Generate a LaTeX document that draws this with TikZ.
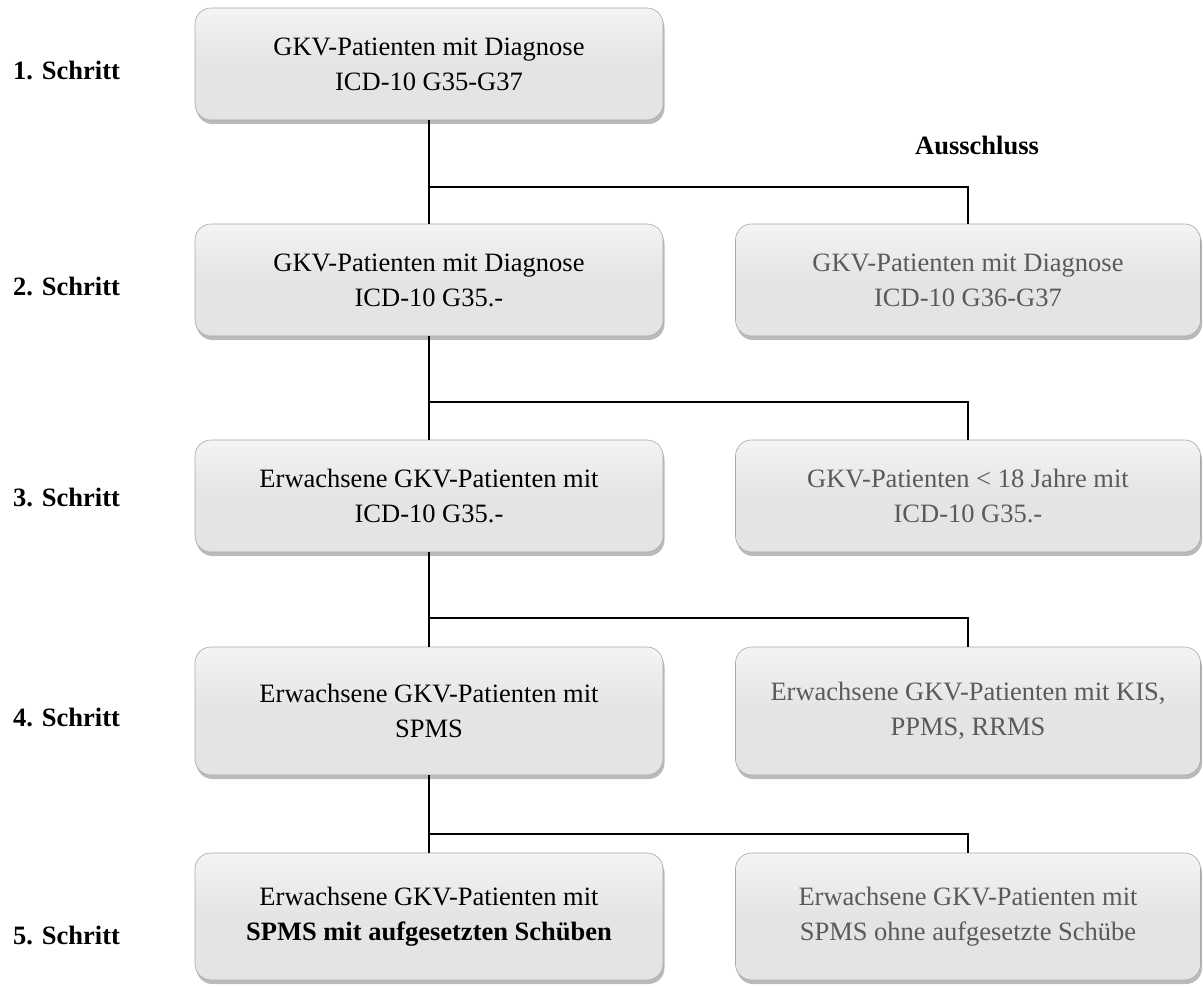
\documentclass[tikz,border=0pt]{standalone}
\usepackage{fontspec}
\setmainfont{Liberation Serif}
\usetikzlibrary{shadows}
\definecolor{boxfill}{HTML}{E4E4E4}
\definecolor{boxtop}{HTML}{F4F4F4}
\definecolor{boxedge}{HTML}{A8A8A8}
\definecolor{greytext}{HTML}{5A5A5A}
\tikzset{
  flowbox/.style={draw=boxedge, line width=0.6pt, rounded corners=16pt,
    top color=boxtop, bottom color=boxfill, middle color=boxfill,
    drop shadow={shadow xshift=1.5pt, shadow yshift=-4pt, opacity=0.45, fill=black!60},
    align=center, inner sep=0pt, font=\fontsize{26.5}{35}\selectfont},
  leftbox/.style={flowbox, minimum width=468pt, text=black},
  rightbox/.style={flowbox, minimum width=465pt, text=greytext},
  steplabel/.style={anchor=base west, inner sep=0pt, font=\fontsize{26.5}{31}\selectfont\bfseries},
  conn/.style={line width=1.7pt, black}
}
\begin{document}
\begin{tikzpicture}[x=1pt, y=-1pt]
\useasboundingbox (0,0) rectangle (1203,987);
% boxes
\node[leftbox, minimum height=112pt] (b1) at (429,64) {GKV-Patienten mit Diagnose\\ICD-10 G35-G37};
\node[leftbox, minimum height=112pt] (b2) at (429,280) {GKV-Patienten mit Diagnose\\ICD-10 G35.-};
\node[rightbox, minimum height=112pt] (r2) at (968,280) {GKV-Patienten mit Diagnose\\ICD-10 G36-G37};
\node[leftbox, minimum height=112pt] (b3) at (429,496) {Erwachsene GKV-Patienten mit\\ICD-10 G35.-};
\node[rightbox, minimum height=112pt] (r3) at (968,496) {GKV-Patienten < 18 Jahre mit\\ICD-10 G35.-};
\node[leftbox, minimum height=128pt] (b4) at (429,711) {Erwachsene GKV-Patienten mit\\SPMS};
\node[rightbox, minimum height=128pt] (r4) at (968,711) {Erwachsene GKV-Patienten mit KIS,\\PPMS, RRMS};
\node[leftbox, minimum height=127pt] (b5) at (429,916.5) {Erwachsene GKV-Patienten mit\\\textbf{SPMS mit aufgesetzten Schüben}};
\node[rightbox, minimum height=127pt] (r5) at (968,916.5) {Erwachsene GKV-Patienten mit\\SPMS ohne aufgesetzte Schübe};
% labels
\node[steplabel] (s1) at (13,80) {1. Schritt};
\node[steplabel] (s2) at (13,296) {2. Schritt};
\node[steplabel] (s3) at (13,506) {3. Schritt};
\node[steplabel] (s4) at (13,726) {4. Schritt};
\node[steplabel] (s5) at (13,944) {5. Schritt};
\node[steplabel] (aus) at (915,155) {Ausschluss};
% junctions
\coordinate (j1) at (429,187);
\coordinate (j2) at (429,402);
\coordinate (j3) at (429,618);
\coordinate (j4) at (429,834);
% connectors
\draw[conn] (b1.south) -- (b2.north);
\draw[conn] (j1) -| (r2.north);
\draw[conn] (b2.south) -- (b3.north);
\draw[conn] (j2) -| (r3.north);
\draw[conn] (b3.south) -- (b4.north);
\draw[conn] (j3) -| (r4.north);
\draw[conn] (b4.south) -- (b5.north);
\draw[conn] (j4) -| (r5.north);
\end{tikzpicture}
\end{document}
